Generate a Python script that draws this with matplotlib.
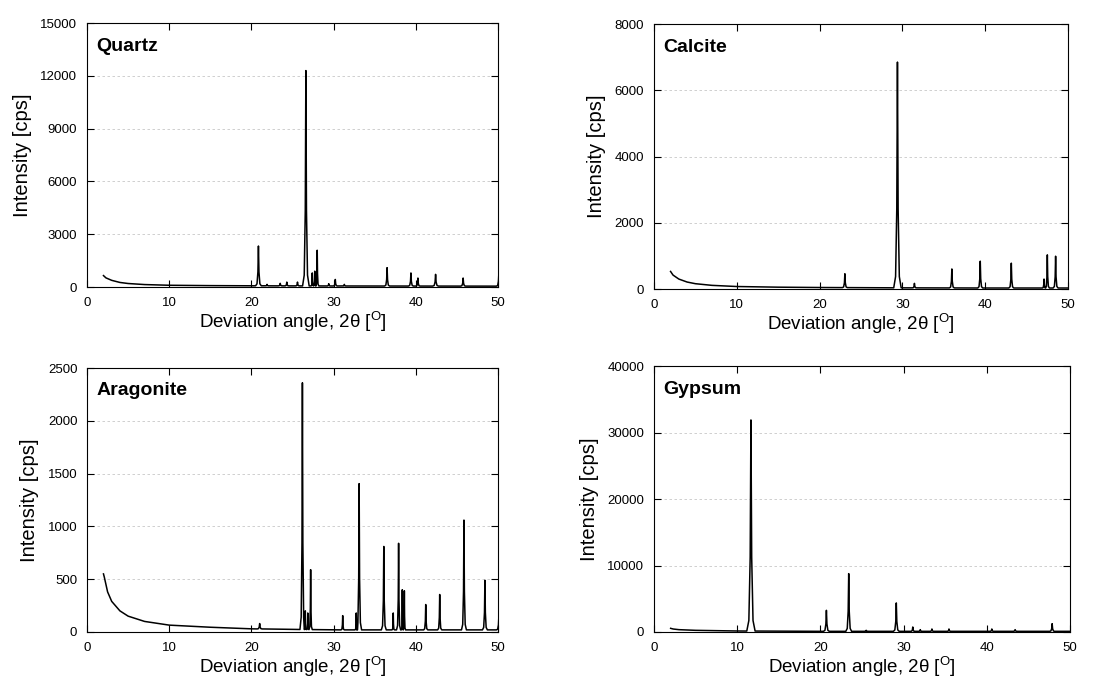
import numpy as np
import matplotlib
matplotlib.use("Agg")
import matplotlib.pyplot as plt

plt.rcParams['font.family'] = ['Liberation Sans', 'DejaVu Sans']
plt.rcParams['mathtext.fontset'] = 'custom'
plt.rcParams['mathtext.rm'] = 'Liberation Sans'

# ---------------------------------------------------------------------------
# Data (2-theta in degrees, intensity in cps)
# ---------------------------------------------------------------------------
# Quartz
quartz_bg_x = [2.0, 2.3, 3.0, 4.0, 5.0, 7.0, 10.0, 15.0, 20.0, 30.0, 40.0, 50.0]
quartz_bg_y = [650, 520, 380, 260, 200, 140, 100, 80, 70, 60, 55, 50]
quartz_pk_x = [20.85, 21.9, 23.5, 24.3, 25.6, 26.62, 27.4, 27.7, 28.0,
               29.4, 30.2, 31.3, 36.5, 39.4, 40.25, 42.4, 45.75, 50.1]
quartz_pk_y = [2330, 150, 210, 280, 280, 12300, 800, 900, 2090,
               190, 430, 150, 1100, 800, 510, 720, 510, 800]
quartz_pk_w = [0.35, 0.2, 0.25, 0.25, 0.25, 0.4, 0.15, 0.15, 0.2,
               0.2, 0.25, 0.2, 0.3, 0.3, 0.25, 0.35, 0.3, 0.3]

# Calcite
calcite_bg_x = [2.0, 2.3, 3.0, 4.0, 5.0, 7.0, 10.0, 15.0, 20.0, 30.0, 40.0, 50.0]
calcite_bg_y = [530, 420, 300, 210, 160, 110, 75, 55, 45, 35, 30, 30]
calcite_pk_x = [23.05, 29.4, 31.45, 35.97, 39.4, 43.15, 47.1, 47.5, 48.5]
calcite_pk_y = [460, 6850, 170, 605, 840, 780, 300, 1030, 990]
calcite_pk_w = [0.3, 0.45, 0.25, 0.3, 0.3, 0.3, 0.2, 0.25, 0.3]

# Aragonite
aragonite_bg_x = [2.0, 2.1, 2.5, 3.0, 4.0, 5.0, 7.0, 10.0, 15.0, 20.0, 25.0, 30.0, 40.0, 50.0]
aragonite_bg_y = [550, 520, 380, 290, 200, 150, 100, 65, 45, 30, 25, 20, 20, 20]
aragonite_pk_x = [21.0, 26.2, 26.55, 26.85, 27.2, 31.1, 32.75, 33.1, 36.1,
                  37.25, 37.9, 38.35, 38.6, 41.2, 42.9, 45.85, 48.4, 50.1]
aragonite_pk_y = [80, 2360, 200, 180, 590, 155, 180, 1405, 810,
                  180, 840, 400, 390, 260, 355, 1060, 490, 150]
aragonite_pk_w = [0.3, 0.3, 0.12, 0.12, 0.2, 0.2, 0.15, 0.3, 0.3,
                  0.15, 0.25, 0.12, 0.15, 0.25, 0.25, 0.3, 0.3, 0.3]

# Gypsum
gypsum_bg_x = [2.0, 2.3, 3.0, 5.0, 10.0, 20.0, 30.0, 40.0, 50.0]
gypsum_bg_y = [550, 450, 350, 250, 150, 100, 100, 100, 100]
gypsum_pk_x = [11.65, 20.72, 23.4, 25.5, 29.12, 31.1, 32.0, 33.4, 35.45,
               40.6, 43.4, 47.85]
gypsum_pk_y = [31900, 3260, 8780, 250, 4370, 750, 350, 450, 450,
               450, 350, 1250]
gypsum_pk_w = [0.5, 0.35, 0.35, 0.3, 0.35, 0.25, 0.25, 0.25, 0.25,
               0.25, 0.3, 0.3]

panels = [
    ("Quartz", quartz_bg_x, quartz_bg_y, quartz_pk_x, quartz_pk_y, quartz_pk_w, 15000, 3000),
    ("Calcite", calcite_bg_x, calcite_bg_y, calcite_pk_x, calcite_pk_y, calcite_pk_w, 8000, 2000),
    ("Aragonite", aragonite_bg_x, aragonite_bg_y, aragonite_pk_x, aragonite_pk_y, aragonite_pk_w, 2500, 500),
    ("Gypsum", gypsum_bg_x, gypsum_bg_y, gypsum_pk_x, gypsum_pk_y, gypsum_pk_w, 40000, 10000),
]

# axes rectangles (figure fractions)
positions = [
    [0.0782, 0.5779, 0.3693, 0.3882],
    [0.5876, 0.5750, 0.3720, 0.3897],
    [0.0782, 0.0706, 0.3693, 0.3882],
    [0.5876, 0.0706, 0.3738, 0.3910],
]

# peak profile shape (fraction of half-width, fraction of height)
SHAPE_DX = [-1.0, -0.5, -0.18, 0.0, 0.18, 0.5, 1.0]
SHAPE_DY = [0.0, 0.05, 0.35, 1.0, 0.35, 0.05, 0.0]


def build_trace(bg_x, bg_y, pk_x, pk_y, pk_w):
    xs, ys = [], []
    for x, y in zip(bg_x, bg_y):
        # keep background points that don't sit under a peak
        if all(abs(x - px) > w for px, w in zip(pk_x, pk_w)):
            xs.append(x)
            ys.append(y)
    for px, py, w in zip(pk_x, pk_y, pk_w):
        base = np.interp(px, bg_x, bg_y)
        for dx, dy in zip(SHAPE_DX, SHAPE_DY):
            xs.append(px + dx * w)
            ys.append(base + dy * (py - base))
    order = np.argsort(xs, kind="stable")
    return np.array(xs)[order], np.array(ys)[order]


fig = plt.figure(figsize=(11.13, 6.8), dpi=100)

for (name, bgx, bgy, pkx, pky, pkw, ymax, ystep), pos in zip(panels, positions):
    ax = fig.add_axes(pos)
    x, y = build_trace(bgx, bgy, pkx, pky, pkw)
    ax.plot(x, y, color='black', lw=1.1)

    ax.set_xlim(0, 50)
    ax.set_ylim(0, ymax)
    ax.set_xticks(np.arange(0, 51, 10))
    ax.set_yticks(np.arange(0, ymax + 1, ystep))
    ax.tick_params(direction='in', top=True, right=True, length=5, width=0.8,
                   labelsize=9.5, pad=7)
    ax.yaxis.grid(True, color='#c8c8c8', linestyle=(0, (3, 3)), linewidth=0.6)
    ax.set_axisbelow(True)
    for sp in ax.spines.values():
        sp.set_linewidth(0.8)

    ax.set_xlabel('Deviation angle, 2θ [$^{\\mathrm{O}}$]', fontsize=13.5, labelpad=0)
    ax.set_ylabel('Intensity [cps]', fontsize=14.5, labelpad=6)
    ax.text(0.022, 0.913, name, transform=ax.transAxes, fontsize=14,
            fontweight='bold', va='center', ha='left')

fig.savefig('out.png', dpi=100)
